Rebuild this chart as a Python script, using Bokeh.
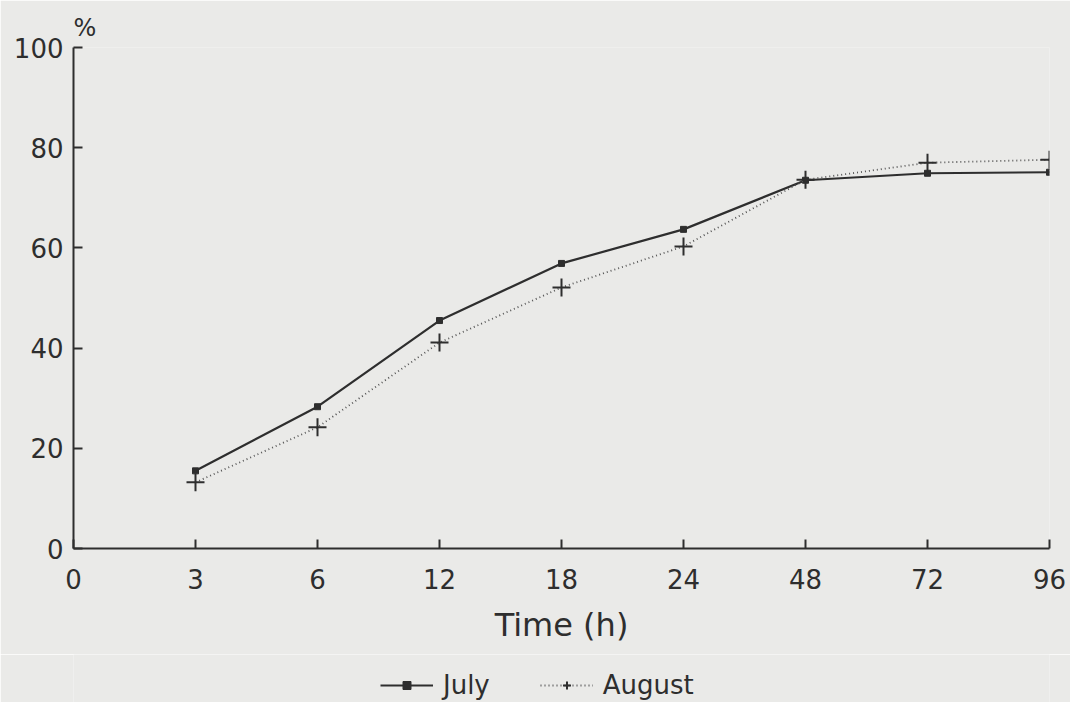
from bokeh.plotting import figure
from bokeh.layouts import column
from bokeh.models import Range1d, FixedTicker, Legend, LegendItem
from bokeh.embed import file_html
from bokeh.resources import INLINE

# ---- data ----
hours = ["0", "3", "6", "12", "18", "24", "48", "72", "96"]
july = [15.5, 28.3, 45.5, 56.9, 63.7, 73.5, 74.9, 75.1]
august = [13.2, 24.2, 41.1, 52.1, 60.3, 73.6, 77.0, 77.6]
y_ticks = [0, 20, 40, 60, 80, 100]
series_names = ["July", "August"]

xpos = list(range(1, len(hours)))

BG = "#eaeae8"
INK = "#2e2e2e"
FONT = "DejaVu Sans"

p = figure(frame_width=976, frame_height=501, output_backend="svg", toolbar_location=None,
           x_range=Range1d(0, len(hours) - 1), y_range=Range1d(0, 100),
           min_border_left=73, min_border_right=21, min_border_top=47, min_border_bottom=106)
p.background_fill_color = BG
p.border_fill_color = BG
p.outline_line_color = None
p.xgrid.visible = False
p.ygrid.visible = False

# "%" unit label as title above the y axis
p.title.text = "%"
p.title.align = "left"
p.title.offset = 0
p.title.text_font = FONT
p.title.text_font_size = "24px"
p.title.text_font_style = "normal"
p.title.text_color = INK
p.title.standoff = 12

# axes
for ax in (p.xaxis[0], p.yaxis[0]):
    ax.axis_line_color = INK
    ax.axis_line_width = 2
    ax.major_tick_line_color = INK
    ax.major_tick_line_width = 2
    ax.major_tick_in = 9
    ax.major_tick_out = 0
    ax.minor_tick_line_color = None
    ax.major_label_text_font = FONT
    ax.major_label_text_font_size = "26px"
    ax.major_label_text_color = INK

p.xaxis.ticker = FixedTicker(ticks=list(range(len(hours))))
p.xaxis.major_label_overrides = {i: h for i, h in enumerate(hours)}
p.xaxis.major_label_standoff = 20
p.xaxis.axis_label = "Time (h)"
p.xaxis.axis_label_text_font = FONT
p.xaxis.axis_label_text_font_size = "32px"
p.xaxis.axis_label_text_font_style = "normal"
p.xaxis.axis_label_text_color = INK
p.xaxis.axis_label_standoff = 14

p.yaxis.ticker = FixedTicker(ticks=y_ticks)
p.yaxis.major_label_standoff = 10

# series styles
july_line = dict(line_color=INK, line_width=2.2)
july_mark = dict(marker="square", size=6, fill_color=INK, line_color=INK)
aug_line = dict(line_color="#555555", line_width=1.8, line_dash="1 3")
aug_mark = dict(marker="cross", size=18, line_color=INK, line_width=2)

p.line(xpos, july, **july_line)
p.scatter(xpos, july, **july_mark)
p.line(xpos, august, **aug_line)
p.scatter(xpos, august, **aug_mark)

# legend strip below the chart (series drawn out of view; only the legend shows)
lg = figure(width=1070, height=48, output_backend="svg", toolbar_location=None,
            x_axis_type=None, y_axis_type=None,
            x_range=Range1d(1000, 1001), y_range=Range1d(1000, 1001), min_border=0)
lg.background_fill_color = BG
lg.border_fill_color = BG
lg.outline_line_color = None
lg.xgrid.visible = False
lg.ygrid.visible = False
l1 = lg.line(xpos, july, **july_line)
m1 = lg.scatter(xpos, july, **july_mark)
l2 = lg.line(xpos, august, **aug_line)
m2 = lg.scatter(xpos, august, **aug_mark)

legend = Legend(items=[LegendItem(label=series_names[0], renderers=[l1, m1]),
                       LegendItem(label=series_names[1], renderers=[l2, m2])],
                orientation="horizontal", location=(307, 2),
                label_text_font=FONT, label_text_font_size="26px", label_text_color=INK,
                glyph_width=53, glyph_height=20, label_height=20, label_standoff=10, spacing=50,
                padding=0, margin=0, border_line_color=None, background_fill_alpha=0)
lg.add_layout(legend, "center")

open("out.html", "w").write(file_html(column(p, lg, spacing=0), INLINE))
